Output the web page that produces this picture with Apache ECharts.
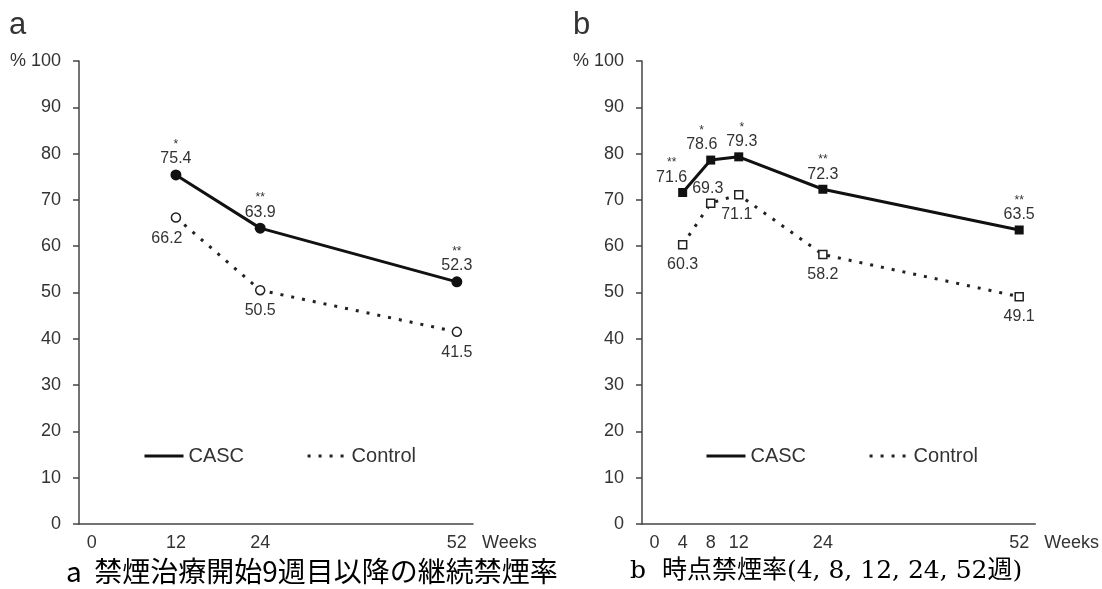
<!DOCTYPE html>
<html>
<head>
<meta charset="utf-8">
<script src="https://cdn.jsdelivr.net/npm/echarts@6/dist/echarts.min.js"></script>
<style>
html,body{margin:0;padding:0;background:#fff;}
#chart{width:1102px;height:589px;}
</style>
</head>
<body>
<div id="chart"></div>
<script>
// ---- data ----
const weeksA = [12, 24, 52];
const cascA = [75.4, 63.9, 52.3];
const controlA = [66.2, 50.5, 41.5];
const sigA = ['*', '**', '**'];

const weeksB = [4, 8, 12, 24, 52];
const cascB = [71.6, 78.6, 79.3, 72.3, 63.5];
const controlB = [60.3, 69.3, 71.1, 58.2, 49.1];
const sigB = ['**', '*', '*', '**', '**'];

const xTicksA = [0, 12, 24, 52];
const xTicksB = [0, 4, 8, 12, 24, 52];
const seriesNames = ['CASC', 'Control'];
const captionA = 'a  禁煙治療開始9週目以降の継続禁煙率';
const captionB = 'b  時点禁煙率(4, 8, 12, 24, 52週)';

// ---- layout / style tweaks (not data) ----
const FONT = "'Liberation Sans', Arial, sans-serif";
const TXT = '#333';
const LINE = '#111';
const DOTS = [3, 8];
const labelTweaks = {
  aCtrl: {0: {offset: [-9, 0]}},
  bCasc: {0: {offset: [-11, 0]}, 1: {offset: [-9, 0]}, 2: {offset: [3, 0]}},
  bCtrl: {1: {position: 'top', distance: 1, offset: [-3, 0]}, 2: {offset: [-2, 0]}}
};

function pairs(xs, ys, tweaks) {
  return xs.map((x, i) => {
    const item = {value: [x, ys[i]]};
    if (tweaks && tweaks[i]) item.label = tweaks[i];
    return item;
  });
}

function cascSeries(name, xs, ys, sig, axisIdx, symbol, size, tweaks) {
  return {
    name: name, type: 'line', xAxisIndex: axisIdx, yAxisIndex: axisIdx,
    data: pairs(xs, ys, tweaks),
    symbol: symbol, symbolSize: size,
    itemStyle: {color: LINE},
    lineStyle: {color: LINE, width: 3},
    z: 3,
    label: {
      show: true, position: 'top', distance: 2,
      formatter: p => '{s|' + sig[p.dataIndex] + '}\n{v|' + p.value[1].toFixed(1) + '}',
      rich: {
        s: {fontSize: 12, lineHeight: 12, color: TXT, fontFamily: FONT, align: 'center'},
        v: {fontSize: 16, lineHeight: 17, color: TXT, fontFamily: FONT, align: 'center'}
      }
    }
  };
}

function ctrlSeries(name, xs, ys, axisIdx, symbol, size, tweaks) {
  return {
    name: name, type: 'line', xAxisIndex: axisIdx, yAxisIndex: axisIdx,
    data: pairs(xs, ys, tweaks),
    symbol: symbol, symbolSize: size, showSymbol: true,
    itemStyle: {color: '#fff', borderColor: '#222', borderWidth: 1.5},
    lineStyle: {color: '#222', width: 3, type: DOTS, cap: 'butt'},
    z: 2,
    label: {
      show: true, position: 'bottom', distance: 7,
      formatter: p => p.value[1].toFixed(1),
      fontSize: 16, lineHeight: 17, color: TXT, fontFamily: FONT
    }
  };
}

function xAxis(idx, ticks) {
  return {
    type: 'value', gridIndex: idx, min: -1.8, max: 54.3,
    axisLine: {show: true, onZero: false, lineStyle: {color: '#444', width: 1.5}},
    axisTick: {show: false},
    splitLine: {show: false},
    axisLabel: {customValues: ticks, color: TXT, fontSize: 18, fontFamily: FONT, margin: 10},
    name: 'Weeks', nameLocation: 'end', nameGap: 9,
    nameTextStyle: {color: TXT, fontSize: 18, fontFamily: FONT, verticalAlign: 'top', padding: [10, 0, 0, 0]}
  };
}

function yAxis(idx) {
  return {
    type: 'value', gridIndex: idx, min: 0, max: 100, interval: 10,
    axisLine: {show: true, onZero: false, lineStyle: {color: '#444', width: 1.5}},
    axisTick: {show: true, inside: false, length: 6, lineStyle: {color: '#444', width: 1.5}},
    splitLine: {show: false},
    axisLabel: {color: TXT, fontSize: 18, fontFamily: FONT, margin: 18,
      formatter: v => v === 100 ? '% 100' : String(v)}
  };
}

function legend(left) {
  return {
    data: [
      {name: seriesNames[0], lineStyle: {width: 3, color: LINE, type: 'solid'}},
      {name: seriesNames[1], lineStyle: {width: 3, color: '#222', type: DOTS, cap: 'butt'}}
    ],
    left: left, top: 446, orient: 'horizontal', padding: 0,
    itemWidth: 39, itemHeight: 14, itemGap: 62,
    itemStyle: {opacity: 0},
    textStyle: {color: TXT, fontSize: 20, fontFamily: FONT},
    selectedMode: false
  };
}

const chart = echarts.init(document.getElementById('chart'), null, {renderer: 'canvas'});
chart.setOption({
  backgroundColor: '#fff',
  animation: false,
  title: [
    {text: 'a', left: 4, top: 5, textStyle: {fontSize: 31, fontWeight: 'normal', color: TXT, fontFamily: FONT}},
    {text: 'b', left: 568, top: 5, textStyle: {fontSize: 31, fontWeight: 'normal', color: TXT, fontFamily: FONT}},
    {text: captionA, left: 61, top: 552, textStyle: {fontSize: 28, fontWeight: 'normal', color: '#000', fontFamily: "'Noto Sans CJK JP', sans-serif"}},
    {text: captionB, left: 625, top: 554, textStyle: {fontSize: 25, fontWeight: 'normal', color: '#000', fontFamily: "'DejaVu Serif', 'Noto Sans CJK JP', serif"}}
  ],
  legend: [legend(143), legend(705)],
  grid: [
    {left: 79, top: 61, width: 394, height: 463},
    {left: 642, top: 61, width: 394, height: 463}
  ],
  xAxis: [xAxis(0, xTicksA), xAxis(1, xTicksB)],
  yAxis: [yAxis(0), yAxis(1)],
  series: [
    cascSeries(seriesNames[0], weeksA, cascA, sigA, 0, 'circle', 11, null),
    ctrlSeries(seriesNames[1], weeksA, controlA, 0, 'circle', 9, labelTweaks.aCtrl),
    cascSeries(seriesNames[0], weeksB, cascB, sigB, 1, 'rect', 9, labelTweaks.bCasc),
    ctrlSeries(seriesNames[1], weeksB, controlB, 1, 'rect', 8, labelTweaks.bCtrl)
  ]
});
</script>
</body>
</html>
